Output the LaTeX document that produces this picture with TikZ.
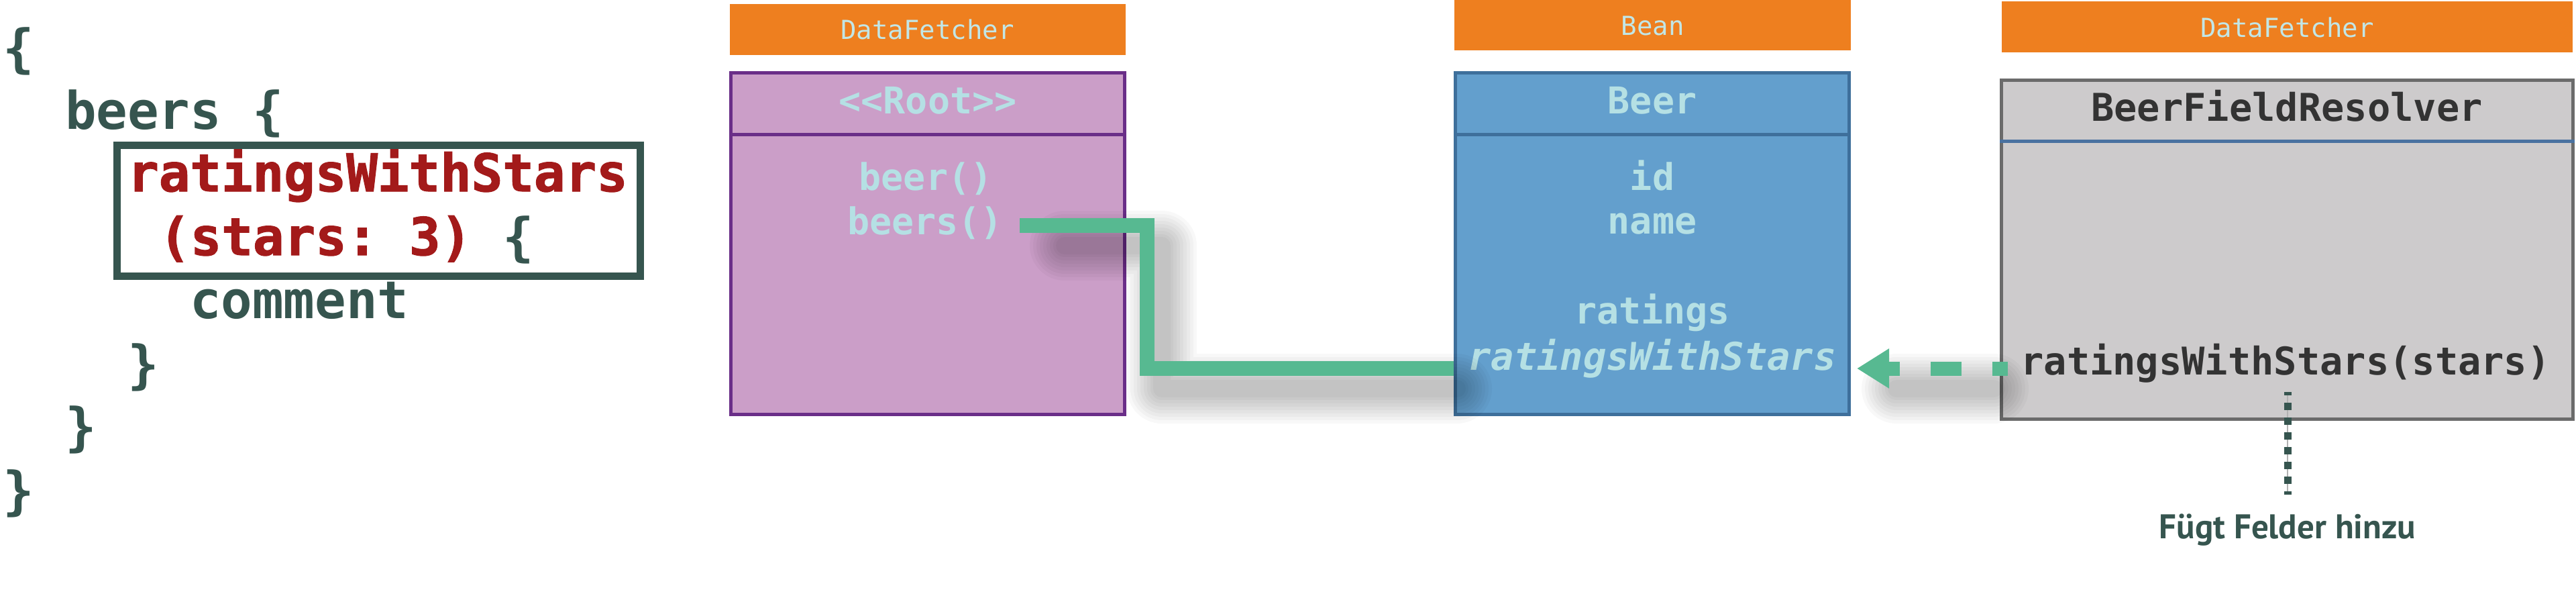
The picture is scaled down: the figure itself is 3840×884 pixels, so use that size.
\documentclass[tikz,border=0pt]{standalone}
\usepackage{fontspec}
\usetikzlibrary{arrows.meta,calc}
\newfontfamily\cmono{DejaVu Sans Mono}
\newfontfamily\cmonoX[BoldFeatures={FakeBold=1.6}]{DejaVu Sans Mono}
\newfontfamily\lblfont{PT Sans}
\definecolor{orng}{HTML}{EE7F1F}
\definecolor{hdrtxt}{HTML}{C2E6E6}
\definecolor{fieldtxt}{HTML}{B5E0E4}
\definecolor{purpfill}{HTML}{CB9EC8}
\definecolor{purpline}{HTML}{6A2E88}
\definecolor{bluefill}{HTML}{639FCD}
\definecolor{blueline}{HTML}{3E6F9B}
\definecolor{grayfill}{HTML}{CDCBCC}
\definecolor{grayline}{HTML}{6B6B6B}
\definecolor{sepblue}{HTML}{4A72A0}
\definecolor{grn}{HTML}{57B991}
\definecolor{codegrn}{HTML}{36554F}
\definecolor{codered}{HTML}{A31A1A}
\definecolor{darktxt}{HTML}{333333}
\newcommand\mysoftshadow[1]{%
  \begin{scope}[transform canvas={xshift=22pt,yshift=-30pt}]
  \foreach \w in {104,94,84,74,64,54,44,34,26}{\draw[black,opacity=0.026,line width=\w pt,line join=round,line cap=round] #1;}
  \end{scope}}
\tikzset{
  codeln/.style={anchor=base west,inner sep=0pt,text=codegrn,font=\cmono\bfseries\fontsize{77.4}{90}\selectfont},
  codered/.style={anchor=base west,inner sep=0pt,text=codered,font=\cmonoX\bfseries\fontsize{77.4}{90}\selectfont},
  hdr/.style={fill=orng,draw=none,inner sep=0pt},
  hdrtext/.style={anchor=base,inner sep=0pt,text=hdrtxt,font=\cmono\fontsize{39}{45}\selectfont},
  classbox/.style={line width=5pt,inner sep=0pt,minimum width=587pt,minimum height=509pt},
  fieldtext/.style={anchor=base,inner sep=0pt,text=fieldtxt,font=\cmono\bfseries\fontsize{55}{64}\selectfont},
  darkfield/.style={anchor=base,inner sep=0pt,text=darktxt,font=\cmono\bfseries\fontsize{57}{66}\selectfont},
  conn/.style={grn,line width=22pt,line join=miter},
  dasharrow/.style={grn,line width=21pt,dash pattern=on 46pt off 46pt,dash phase=23pt,-{Triangle[length=48pt,width=56pt]}},
  dotline/.style={codegrn,line width=11pt,dash pattern=on 11pt off 11pt,dash phase=6pt},
}
\begin{document}
\begin{tikzpicture}[x=1pt,y=-1pt]
\frenchspacing
\useasboundingbox (0,0) rectangle (3840,884);
\fill[white] (0,0) rectangle (3840,884);
% ---- query code ----
\node[codeln] (c1) at (4,99) {\{};
\node[codeln] (c2) at (97,192) {beers \{};
\node[codered] (c3) at (190,285) {ratingsWithStars};
\node[codered] (c4) at (237,380) {(stars: 3)};
\node[codeln] (c4b) at (749,380) {\{};
\node[codeln] (c5) at (283,474) {comment};
\node[codeln] (c6) at (190,570) {\}};
\node[codeln] (c7) at (97,663) {\}};
\node[codeln] (c8) at (4,758) {\}};
\node[draw=codegrn,line width=11pt,inner sep=0pt,minimum width=780pt,minimum height=195pt] (qbox) at (564.5,314) {};
% ---- headers ----
\node[hdr,minimum width=590pt,minimum height=76pt] (h1) at (1382.5,44) {};
\node[hdrtext] (h1t) at (1382.5,58) {DataFetcher};
\node[hdr,minimum width=591pt,minimum height=75pt] (h2) at (2463.5,37.5) {};
\node[hdrtext] (h2t) at (2463.5,52) {Bean};
\node[hdr,minimum width=851pt,minimum height=76pt] (h3) at (3409.5,40) {};
\node[hdrtext] (h3t) at (3409.5,55) {DataFetcher};
% ---- Root box ----
\node[classbox,fill=purpfill,draw=purpline] (root) at (1383,363) {};
\draw[purpline,line width=5pt] (root.west |- 0,200) -- (root.east |- 0,200);
\node[fieldtext] (roott) at (1383,169) {<{}<Root>{}>};
\node[fieldtext] (br) at (1380,283) {beer()};
\node[fieldtext] (bs) at (1379,349) {beers()};
% ---- Beer box ----
\node[classbox,fill=bluefill,draw=blueline] (beer) at (2463,363) {};
\draw[blueline,line width=5pt] (beer.west |- 0,200) -- (beer.east |- 0,200);
\node[fieldtext] (beert) at (2463,169) {Beer};
\node[fieldtext] (fid) at (2463,283) {id};
\node[fieldtext] (fname) at (2463,348) {name};
\node[fieldtext] (frat) at (2463,482) {ratings};
\node[fieldtext,font=\cmono\bfseries\itshape\fontsize{57}{66}\selectfont] (frws) at (2463,551) {ratingsWithStars};
% ---- Resolver box ----
\node[classbox,fill=grayfill,draw=grayline,minimum width=852pt,minimum height=505pt] (resolver) at (3409.5,372) {};
\draw[sepblue,line width=5pt] (resolver.west |- 0,210) -- (resolver.east |- 0,210);
\node[darkfield] (rest) at (3409,180) {BeerFieldResolver};
\node[darkfield] (rws2) at (3407,558) {ratingsWithStars(stars)};
% ---- label ----
\node[anchor=base,inner sep=0pt,text=codegrn,font=\lblfont\bfseries\fontsize{51}{60}\selectfont] (fl) at (3410,802) {Fügt Felder hinzu};
% ---- connectors ----
\coordinate (gs) at (1520,336);
\coordinate (ge) at (beer.west |- 0,549);
\coordinate (as) at (2993,549);
\coordinate (at) at (2768,549);
\mysoftshadow{(1565,336) -| (1710,549) -- (2150,549)}
\mysoftshadow{(2950,549) -- (2805,549)}
\draw[conn] (gs) -| (1710,549) -- (ge);
\draw[dasharrow] (as) -- (at);
\draw[gray!60,line width=1.5pt] (fl.north |- 0,584) -- (fl.north |- 0,737);
\draw[dotline] (fl.north |- 0,584) -- (fl.north |- 0,737);
\end{tikzpicture}
\end{document}
